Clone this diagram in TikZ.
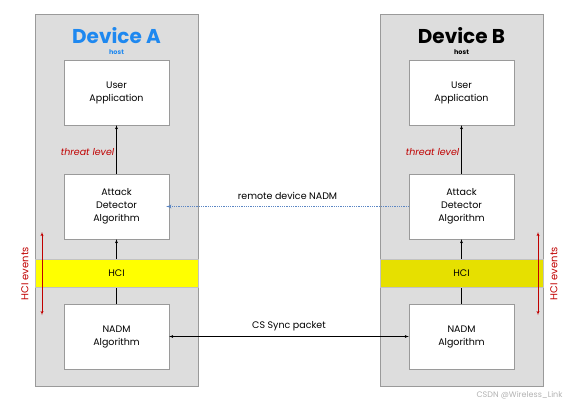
\documentclass[tikz,border=0pt]{standalone}
\usepackage{fontspec}
\setmainfont{Poppins}
\usetikzlibrary{arrows,positioning}

\definecolor{panelgray}{HTML}{DDDDDD}
\definecolor{edgegray}{HTML}{9A9A9A}
\definecolor{titleblue}{HTML}{1E88F0}
\definecolor{threatred}{HTML}{C00000}
\definecolor{hciyellow}{HTML}{FFFF00}
\definecolor{hcidark}{HTML}{E6E000}
\definecolor{linkblue}{HTML}{5B86C4}

\begin{document}
\begin{tikzpicture}[x=1pt, y=-1pt, auto,
  panel/.style={rectangle, draw=edgegray, fill=panelgray, minimum width=163pt, minimum height=372pt, inner sep=0pt},
  block/.style={rectangle, draw=edgegray, fill=white, minimum width=105pt, minimum height=65pt, text width=95pt, align=center, font=\fontsize{9.5}{13}\selectfont},
  band/.style={rectangle, draw=edgegray!60, minimum width=163pt, minimum height=28pt, font=\fontsize{9.5}{12}\selectfont},
  title/.style={inner sep=0pt, text height=14.5pt, text depth=0pt, font=\fontsize{20}{22}\selectfont\bfseries},
  hostlabel/.style={inner sep=0pt, text height=5pt, text depth=0pt, font=\fontsize{6.5}{7}\selectfont\bfseries},
  threat/.style={fill=panelgray, text=threatred, font=\fontsize{9.5}{11}\selectfont\itshape, inner sep=2pt},
  events/.style={text=threatred, rotate=90, font=\fontsize{10}{11}\selectfont},
  line/.style={draw, -latex'},
  evline/.style={draw=threatred, latex'-latex'},
  msg/.style={font=\fontsize{9.5}{11}\selectfont}]

  \useasboundingbox (0,0) rectangle (571,405);

  % device A
  \node [panel] (devA) at (116.5,200) {};
  \node [title, text=titleblue] (titleA) at (116.5,36) {Device A};
  \node [hostlabel, text=titleblue] (hostA) at (116.5,51.5) {host};
  \node [block] (userA) at (116.5,92.5) {User\\Application};
  \node [block] (attA) at (116.5,206.5) {Attack\\Detector\\Algorithm};
  \node [block] (nadmA) at (116.5,336.5) {NADM\\Algorithm};

  % device B
  \node [panel] (devB) at (461.5,200) {};
  \node [title] (titleB) at (461.5,36) {Device B};
  \node [hostlabel] (hostB) at (461.5,51.5) {host};
  \node [block] (userB) at (461.5,92.5) {User\\Application};
  \node [block] (attB) at (461.5,206.5) {Attack\\Detector\\Algorithm};
  \node [block] (nadmB) at (461.5,336.5) {NADM\\Algorithm};

  % stacks
  \draw [line] (nadmA) -- (attA);
  \draw [line] (attA) -- node [threat, pos=0.45] {threat level} (userA);
  \draw [line] (nadmB) -- (attB);
  \draw [line] (attB) -- node [threat, pos=0.45] {threat level} (userB);

  \node [band, fill=hciyellow] (hciA) at (116.5,273) {HCI};
  \node [band, fill=hcidark] (hciB) at (461.5,273) {HCI};

  % HCI events
  \coordinate (evAtop) at (42,232);
  \coordinate (evAbot) at (42,315);
  \coordinate (evBtop) at (538,232);
  \coordinate (evBbot) at (538,315);
  \draw [evline] (evAtop) -- (evAbot);
  \draw [evline] (evBtop) -- (evBbot);
  \node [events] (evA) at (25,273.5) {HCI events};
  \node [events] (evB) at (554,273.5) {HCI events};

  % between devices
  \draw [draw=linkblue, densely dotted, line width=0.8pt, -latex'] (attB.west) -- node [msg, above=3pt, text=black] {remote device NADM} ([xshift=-3pt]attA.east);
  \draw [latex'-latex'] (nadmA.east) -- node [msg, above=2pt] {CS Sync packet} (nadmB.west);

  \node [text=black!30, font=\fontsize{8}{9}\selectfont, anchor=east] (mark) at (566,395) {CSDN @Wireless\_Link};
\end{tikzpicture}
\end{document}
